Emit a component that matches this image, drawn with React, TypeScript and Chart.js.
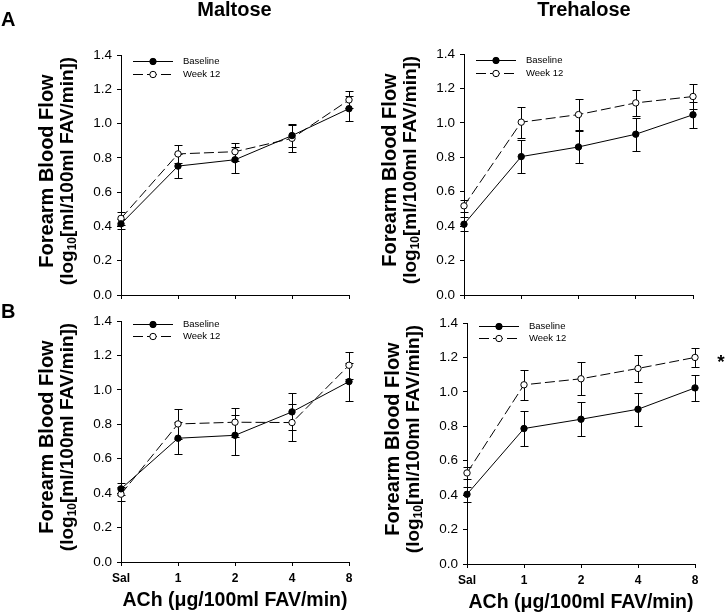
import React, { useEffect, useRef } from "react";
import { Chart, registerables } from "chart.js";

Chart.register(...registerables);

// ---------- data ----------
const doses = ["Sal", "1", "2", "4", "8"];
const yTickValues = [0, 0.2, 0.4, 0.6, 0.8, 1.0, 1.2, 1.4];
const seriesNames = ["Baseline", "Week 12"];

const maltoseABaseline = [0.415, 0.752, 0.789, 0.93, 1.087];
const maltoseABaselineErr = [0.03, 0.072, 0.076, 0.068, 0.074];
const maltoseAWeek12 = [0.447, 0.823, 0.836, 0.914, 1.138];
const maltoseAWeek12Err = [0.036, 0.052, 0.053, 0.08, 0.05];

const trehaloseABaseline = [0.411, 0.804, 0.86, 0.934, 1.047];
const trehaloseABaselineErr = [0.04, 0.098, 0.093, 0.097, 0.074];
const trehaloseAWeek12 = [0.518, 1.004, 1.048, 1.116, 1.153];
const trehaloseAWeek12Err = [0.035, 0.09, 0.092, 0.077, 0.07];

const maltoseBBaseline = [0.425, 0.719, 0.736, 0.872, 1.048];
const maltoseBBaselineErr = [0.035, 0.092, 0.117, 0.108, 0.11];
const maltoseBWeek12 = [0.394, 0.802, 0.812, 0.81, 1.143];
const maltoseBWeek12Err = [0.04, 0.085, 0.085, 0.108, 0.079];

const trehaloseBBaseline = [0.405, 0.787, 0.841, 0.899, 1.023];
const trehaloseBBaselineErr = [0.045, 0.1, 0.1, 0.097, 0.074];
const trehaloseBWeek12 = [0.529, 1.041, 1.076, 1.136, 1.2];
const trehaloseBWeek12Err = [0.037, 0.088, 0.097, 0.078, 0.055];

const columnTitles = ["Maltose", "Trehalose"];
const rowLetters = ["A", "B"];
const yTitleLine1 = "Forearm Blood Flow";
const yTitleLine2 = ["(log", "10", "[ml/100ml FAV/min])"];
const xTitle = "ACh (\u03bcg/100ml FAV/min)";

// ---------- layout ----------
const W = 726;
const H = 613;
const FONT = "'Liberation Sans', Arial, sans-serif";
const Y_AXIS_W = 40;

type Panel = {
  base: number[];
  baseErr: number[];
  wk: number[];
  wkErr: number[];
  L: number;
  R: number;
  T: number;
  B: number;
  showX: boolean;
  legendDy: number;
  heading?: { text: string; x: number; y: number };
  letter?: { text: string; x: number; y: number };
  star?: boolean;
};

const panels: Panel[] = [
  {
    base: maltoseABaseline, baseErr: maltoseABaselineErr,
    wk: maltoseAWeek12, wkErr: maltoseAWeek12Err,
    L: 121, R: 349, T: 55, B: 295, showX: false, legendDy: 6,
    heading: { text: columnTitles[0], x: 234.5, y: 15.5 },
    letter: { text: rowLetters[0], x: 1, y: 25.5 },
  },
  {
    base: trehaloseABaseline, baseErr: trehaloseABaselineErr,
    wk: trehaloseAWeek12, wkErr: trehaloseAWeek12Err,
    L: 464, R: 693, T: 54, B: 295, showX: false, legendDy: 6,
    heading: { text: columnTitles[1], x: 584, y: 15.5 },
  },
  {
    base: maltoseBBaseline, baseErr: maltoseBBaselineErr,
    wk: maltoseBWeek12, wkErr: maltoseBWeek12Err,
    L: 121, R: 349, T: 321, B: 562, showX: true, legendDy: 2.5,
    letter: { text: rowLetters[1], x: 1, y: 317.5 },
  },
  {
    base: trehaloseBBaseline, baseErr: trehaloseBBaselineErr,
    wk: trehaloseBWeek12, wkErr: trehaloseBWeek12Err,
    L: 467, R: 695, T: 323, B: 564, showX: true, legendDy: 2.5,
    star: true,
  },
];

function overlayPlugin(p: Panel) {
  return {
    id: "overlay",
    beforeDatasetsDraw(chart: any) {
      const ctx = chart.ctx as CanvasRenderingContext2D;
      const ys = chart.scales.y;
      const errs = [p.baseErr, p.wkErr];
      ctx.save();
      ctx.strokeStyle = "#000";
      ctx.lineWidth = 1;
      ctx.setLineDash([]);
      chart.data.datasets.forEach((ds: any, i: number) => {
        const meta = chart.getDatasetMeta(i);
        ds.data.forEach((v: number, j: number) => {
          const e = errs[i][j];
          const x = Math.round(meta.data[j].x) + 0.5;
          const yt = Math.round(ys.getPixelForValue(v + e)) + 0.5;
          const yb = Math.round(ys.getPixelForValue(v - e)) + 0.5;
          ctx.beginPath();
          ctx.moveTo(x, yt);
          ctx.lineTo(x, yb);
          ctx.moveTo(x - 4, yt);
          ctx.lineTo(x + 4, yt);
          ctx.moveTo(x - 4, yb);
          ctx.lineTo(x + 4, yb);
          ctx.stroke();
        });
      });
      ctx.restore();
    },
    afterDraw(chart: any) {
      const ctx = chart.ctx as CanvasRenderingContext2D;
      const ca = chart.chartArea;
      ctx.save();
      ctx.fillStyle = "#000";
      ctx.strokeStyle = "#000";
      ctx.lineWidth = 1;

      // legend
      const lx0 = ca.left + 12;
      const lx1 = ca.left + 52;
      const mx = ca.left + 32;
      const tx = ca.left + 62;
      const rows = [ca.top + p.legendDy, ca.top + p.legendDy + 12.7];
      rows.forEach((ry, i) => {
        const y = Math.round(ry) + 0.5;
        ctx.setLineDash(i === 0 ? [] : [10, 4]);
        ctx.beginPath();
        ctx.moveTo(lx0, y);
        ctx.lineTo(lx1, y);
        ctx.stroke();
        ctx.setLineDash([]);
        ctx.beginPath();
        ctx.arc(mx, y, 3.2, 0, Math.PI * 2);
        ctx.fillStyle = i === 0 ? "#000" : "#fff";
        ctx.fill();
        ctx.stroke();
        ctx.fillStyle = "#000";
        ctx.font = `9.5px ${FONT}`;
        ctx.textAlign = "left";
        ctx.textBaseline = "middle";
        ctx.fillText(chart.data.datasets[i].label, tx, y);
      });

      // y title
      const cy = ca.top + 116;
      ctx.save();
      ctx.translate(ca.left - 74, cy);
      ctx.rotate(-Math.PI / 2);
      ctx.font = `bold 20px ${FONT}`;
      ctx.textAlign = "center";
      ctx.textBaseline = "middle";
      ctx.fillText(yTitleLine1, 0, 0);
      ctx.restore();

      ctx.save();
      ctx.translate(ca.left - 53, cy);
      ctx.rotate(-Math.PI / 2);
      ctx.textAlign = "left";
      ctx.textBaseline = "middle";
      const big = `bold 19px ${FONT}`;
      const small = `bold 12px ${FONT}`;
      ctx.font = big;
      const w0 = ctx.measureText(yTitleLine2[0]).width;
      const w2 = ctx.measureText(yTitleLine2[2]).width;
      ctx.font = small;
      const w1 = ctx.measureText(yTitleLine2[1]).width;
      let sx = -(w0 + w1 + w2) / 2;
      ctx.font = big;
      ctx.fillText(yTitleLine2[0], sx, 0);
      sx += w0;
      ctx.font = small;
      ctx.fillText(yTitleLine2[1], sx, 5);
      sx += w1;
      ctx.font = big;
      ctx.fillText(yTitleLine2[2], sx, 0);
      ctx.restore();

      // x title
      if (p.showX) {
        ctx.font = `bold 19.5px ${FONT}`;
        ctx.textAlign = "center";
        ctx.textBaseline = "middle";
        ctx.fillText(xTitle, (ca.left + ca.right) / 2, ca.bottom + 38.5);
      }

      // headings
      ctx.textBaseline = "alphabetic";
      if (p.heading) {
        ctx.font = `bold 20px ${FONT}`;
        ctx.textAlign = "center";
        ctx.fillText(p.heading.text, p.heading.x, p.heading.y);
      }
      if (p.letter) {
        ctx.font = `bold 20px ${FONT}`;
        ctx.textAlign = "left";
        ctx.fillText(p.letter.text, p.letter.x, p.letter.y);
      }
      if (p.star) {
        const ys = chart.scales.y;
        ctx.font = `bold 19px ${FONT}`;
        ctx.textAlign = "center";
        ctx.fillText("*", ca.right + 26, ys.getPixelForValue(1.2) + 11);
      }
      ctx.restore();
    },
  };
}

function makeChart(canvas: HTMLCanvasElement, p: Panel) {
  const xH = p.showX ? 30 : 10;
  const axisGrid = {
    display: true,
    drawOnChartArea: false,
    drawTicks: true,
    tickLength: 4,
    color: "#000",
    lineWidth: 1,
  };
  const axisBorder = { display: true, color: "#000", width: 1 };
  return new Chart(canvas, {
    type: "line",
    data: {
      labels: doses,
      datasets: [
        {
          label: seriesNames[0],
          data: p.base,
          borderColor: "#000",
          borderWidth: 1,
          pointRadius: 3.2,
          pointBackgroundColor: "#000",
          pointBorderColor: "#000",
          pointBorderWidth: 1,
          clip: false,
          tension: 0,
        },
        {
          label: seriesNames[1],
          data: p.wk,
          borderColor: "#000",
          borderWidth: 1,
          borderDash: [10, 4],
          pointRadius: 3.2,
          pointBackgroundColor: "#fff",
          pointBorderColor: "#000",
          pointBorderWidth: 1,
          clip: false,
          tension: 0,
        },
      ],
    },
    options: {
      responsive: false,
      maintainAspectRatio: false,
      animation: false,
      devicePixelRatio: 1,
      events: [],
      layout: {
        padding: {
          left: p.L - Y_AXIS_W,
          top: p.T,
          right: W - p.R,
          bottom: H - p.B - xH,
        },
      },
      plugins: {
        legend: { display: false },
        tooltip: { enabled: false },
        title: { display: false },
      },
      scales: {
        x: {
          type: "category",
          offset: false,
          grid: axisGrid,
          border: axisBorder,
          ticks: {
            display: p.showX,
            color: "#000",
            font: { family: FONT, size: 12, weight: "bold" },
            padding: 5,
            maxRotation: 0,
            autoSkip: false,
          },
          afterFit: (s: any) => {
            s.height = xH;
            s.paddingLeft = 0;
            s.paddingRight = 0;
          },
        },
        y: {
          type: "linear",
          min: 0,
          max: 1.4,
          grid: axisGrid,
          border: axisBorder,
          ticks: {
            color: "#000",
            font: { family: FONT, size: 13.5 },
            padding: 5,
            callback: (v: any) => Number(v).toFixed(1),
          },
          afterBuildTicks: (s: any) => {
            s.ticks = yTickValues.map((v) => ({ value: v }));
          },
          afterFit: (s: any) => {
            s.width = Y_AXIS_W;
            s.paddingTop = 0;
            s.paddingBottom = 0;
          },
        },
      },
    } as any,
    plugins: [overlayPlugin(p)],
  });
}

export default function App() {
  const refs = useRef<(HTMLCanvasElement | null)[]>([]);
  useEffect(() => {
    const charts = panels.map((p, i) => makeChart(refs.current[i] as HTMLCanvasElement, p));
    return () => charts.forEach((c) => c.destroy());
  }, []);
  return (
    <div
      style={{
        position: "absolute",
        left: 0,
        top: 0,
        width: W,
        height: H,
        background: "#fff",
        overflow: "hidden",
      }}
    >
      {panels.map((_, i) => (
        <canvas
          key={i}
          ref={(el) => {
            refs.current[i] = el;
          }}
          width={W}
          height={H}
          style={{ position: "absolute", left: 0, top: 0 }}
        />
      ))}
    </div>
  );
}
